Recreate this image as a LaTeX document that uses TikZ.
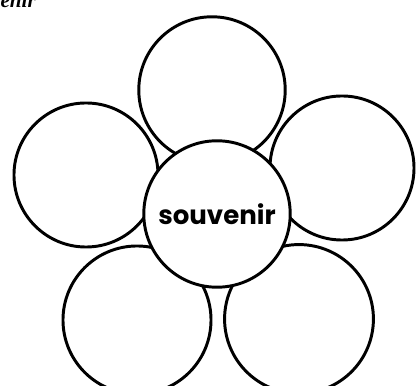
\documentclass[tikz,border=0pt]{standalone}
\usepackage{fontspec}
\setmainfont{Liberation Serif}
\newfontfamily\flowerfont{Poppins}
\usepackage{tikz}
\usetikzlibrary{positioning}
\tikzset{
  petal/.style={circle, draw=black, fill=white, line width=2.1pt, minimum size=3.66cm, inner sep=0pt},
}
\begin{document}
\begin{tikzpicture}[x=0.025cm, y=-0.025cm]
\useasboundingbox (0,0) rectangle (416,386);
\clip (0,0) rectangle (416,386);
\node[font=\fontsize{15}{18}\selectfont\itshape\bfseries, anchor=base east, inner sep=0pt] (title) at (36,8) {souvenir};
\node[petal] (ptop) at (212,90) {};
\node[petal, minimum size=3.6cm] (pleft) at (86,175) {};
\node[petal, minimum size=3.6cm] (pright) at (342,168) {};
\node[petal, minimum size=3.7cm] (pbotleft) at (137,320) {};
\node[petal, minimum size=3.72cm] (pbotright) at (299,319) {};
\node[petal, font=\flowerfont\bfseries\fontsize{18.5}{22}\selectfont] (heart) at (217,214) {souvenir};
\end{tikzpicture}
\end{document}
